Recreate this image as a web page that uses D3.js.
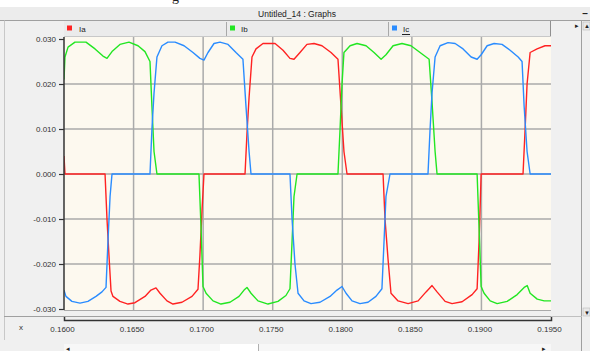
<!DOCTYPE html>
<html><head><meta charset="utf-8">
<script src="https://cdn.jsdelivr.net/npm/d3@7"></script>
<style>html,body{margin:0;padding:0;background:#f0f0f0;overflow:hidden}svg{display:block}</style>
</head><body>
<script>
// ---------- data ----------
const windowTitle = "Untitled_14 : Graphs";
const seriesNames = ["Ia", "Ib", "Ic"];
const xTicks = [0.160, 0.165, 0.170, 0.175, 0.180, 0.185, 0.190, 0.195];
const yTicks = [-0.030, -0.020, -0.010, 0.000, 0.010, 0.020, 0.030];
const iaPoints = [[0.16,0.004],[0.16007,0],[0.16295,0],[0.16309,-0.010],[0.16323,-0.018],[0.16338,-0.026],[0.16352,-0.0272],[0.16402,-0.0283],[0.16460,-0.0289],[0.16510,-0.0286],[0.16582,-0.0272],[0.16625,-0.0258],[0.16661,-0.0253],[0.16690,-0.0265],[0.16740,-0.0282],[0.16783,-0.0289],[0.16848,-0.0285],[0.16920,-0.0272],[0.16963,-0.0256],[0.16977,-0.018],[0.16992,-0.008],[0.17006,0],[0.17301,0],[0.17315,0.009],[0.17330,0.017],[0.17351,0.026],[0.17380,0.0278],[0.17430,0.029],[0.17517,0.029],[0.17574,0.0275],[0.17624,0.0257],[0.17653,0.0255],[0.17696,0.027],[0.17746,0.0288],[0.17797,0.029],[0.17854,0.0285],[0.17919,0.027],[0.17969,0.0255],[0.17991,0.015],[0.18012,0.005],[0.18034,0],[0.18293,0],[0.18307,-0.010],[0.18329,-0.019],[0.18350,-0.0265],[0.18401,-0.0282],[0.18473,-0.0288],[0.18545,-0.0282],[0.18602,-0.0262],[0.18645,-0.0248],[0.18681,-0.0262],[0.18739,-0.0283],[0.18789,-0.0288],[0.18861,-0.0284],[0.18933,-0.0268],[0.18969,-0.0255],[0.18983,-0.015],[0.18998,0],[0.19299,0],[0.19314,0.010],[0.19328,0.020],[0.19350,0.027],[0.19400,0.0278],[0.19457,0.0285],[0.19500,0.0285]];
const ibPoints = [[0.16,0.021],[0.16007,0.026],[0.16029,0.0282],[0.16079,0.0293],[0.16158,0.0293],[0.16223,0.0278],[0.16280,0.0262],[0.16309,0.0257],[0.16345,0.0272],[0.16402,0.0288],[0.16467,0.0293],[0.16532,0.0285],[0.16582,0.0272],[0.16618,0.025],[0.16632,0.015],[0.16647,0.005],[0.16668,0],[0.16970,0],[0.16985,-0.012],[0.16999,-0.025],[0.17021,-0.0265],[0.17071,-0.0282],[0.17128,-0.0289],[0.17193,-0.0285],[0.17258,-0.0272],[0.17294,-0.0258],[0.17315,-0.0252],[0.17344,-0.0265],[0.17394,-0.0282],[0.17466,-0.0289],[0.17538,-0.0283],[0.17595,-0.027],[0.17624,-0.0255],[0.17639,-0.015],[0.17653,-0.005],[0.17675,0],[0.17969,0],[0.17984,0.010],[0.17998,0.020],[0.18012,0.027],[0.18056,0.0285],[0.18106,0.029],[0.18171,0.0285],[0.18228,0.027],[0.18279,0.0255],[0.18314,0.0265],[0.18365,0.0285],[0.18429,0.029],[0.18494,0.0285],[0.18559,0.027],[0.18624,0.0255],[0.18645,0.016],[0.18667,0.005],[0.18681,0],[0.18969,0],[0.18983,-0.012],[0.18998,-0.025],[0.19019,-0.0265],[0.19063,-0.0282],[0.19113,-0.0288],[0.19185,-0.0283],[0.19257,-0.0268],[0.19307,-0.0252],[0.19329,-0.0248],[0.19350,-0.0265],[0.19401,-0.0278],[0.19451,-0.0282],[0.19500,-0.0282]];
const icPoints = [[0.16,-0.0258],[0.16014,-0.0272],[0.16057,-0.0283],[0.16115,-0.0287],[0.16172,-0.0283],[0.16230,-0.0272],[0.16273,-0.0262],[0.16302,-0.0252],[0.16316,-0.015],[0.16331,-0.005],[0.16345,0],[0.16618,0],[0.16632,0.010],[0.16647,0.018],[0.16668,0.026],[0.16704,0.0285],[0.16747,0.0293],[0.16798,0.0293],[0.16863,0.0285],[0.16927,0.027],[0.16977,0.0257],[0.17006,0.0253],[0.17035,0.027],[0.17078,0.029],[0.17121,0.0293],[0.17179,0.0288],[0.17236,0.027],[0.17286,0.0255],[0.17308,0.015],[0.17330,0.005],[0.17344,0],[0.17624,0],[0.17639,-0.010],[0.17660,-0.020],[0.17682,-0.0265],[0.17725,-0.0282],[0.17775,-0.0288],[0.17840,-0.0285],[0.17912,-0.0272],[0.17962,-0.0258],[0.17998,-0.025],[0.18027,-0.0265],[0.18070,-0.0282],[0.18127,-0.0288],[0.18185,-0.0285],[0.18242,-0.0272],[0.18285,-0.0255],[0.18300,-0.015],[0.18314,-0.005],[0.18343,0],[0.18616,0],[0.18631,0.010],[0.18645,0.018],[0.18667,0.026],[0.18703,0.0285],[0.18760,0.0292],[0.18811,0.029],[0.18868,0.0278],[0.18926,0.026],[0.18969,0.0255],[0.18998,0.0265],[0.19041,0.0285],[0.19091,0.029],[0.19148,0.0288],[0.19206,0.0275],[0.19264,0.026],[0.19292,0.025],[0.19307,0.015],[0.19328,0.005],[0.19350,0],[0.19500,0]];
const seriesColors = ["#ff2222", "#22e622", "#2a8cff"];

// ---------- layout ----------
const W = 590, H = 351;
const P = {left: 64, right: 551, top: 37, bottom: 310};
const FONT = "Arial, 'Liberation Sans', sans-serif";
const svg = d3.select("body").append("svg").attr("width", W).attr("height", H);

const x = d3.scaleLinear().domain([0.16, 0.195]).range([P.left, P.right]);
const y = d3.scaleLinear().domain([-0.03, 0.03]).range([309, 39]);

// window chrome
svg.append("rect").attr("x",0).attr("y",0).attr("width",W).attr("height",H).attr("fill","#f0f0f0");
svg.append("rect").attr("x",0).attr("y",0).attr("width",W).attr("height",7).attr("fill","#ffffff");
svg.append("text").attr("x",172).attr("y",1).attr("font-family","'Times New Roman', 'Liberation Serif', serif").attr("font-size",14).attr("fill","#222").text("g");
svg.append("rect").attr("x",0).attr("y",7).attr("width",W).attr("height",13.5).attr("fill","#ececec");
svg.append("line").attr("x1",0).attr("x2",W).attr("y1",20.5).attr("y2",20.5).attr("stroke","#a0a0a0");
svg.append("text").attr("x",297).attr("y",17).attr("text-anchor","middle").attr("font-family",FONT).attr("font-size",8.5).attr("fill","#222").text(windowTitle);
svg.append("text").attr("x",585).attr("y",17).attr("text-anchor","middle").attr("font-family",FONT).attr("font-size",10).attr("font-weight","bold").attr("fill","#222").text("–");
svg.append("line").attr("x1",4.5).attr("x2",4.5).attr("y1",20.5).attr("y2",340).attr("stroke","#c8c8c8");
svg.append("line").attr("x1",581.5).attr("x2",581.5).attr("y1",20.5).attr("y2",H).attr("stroke","#a0a0a0");
svg.append("text").attr("x",577).attr("y",28).attr("text-anchor","middle").attr("font-family",FONT).attr("font-size",7).attr("fill","#222").text("▸");
svg.append("rect").attr("x",583).attr("y",22).attr("width",7).attr("height",8).attr("fill","#e8e8e8").attr("stroke","#b0b0b0").attr("stroke-width",0.5);
svg.append("text").attr("x",587).attr("y",28).attr("text-anchor","middle").attr("font-family",FONT).attr("font-size",6).attr("fill","#222").text("▲");
svg.append("rect").attr("x",583).attr("y",308).attr("width",7).attr("height",8).attr("fill","#e8e8e8").attr("stroke","#b0b0b0").attr("stroke-width",0.5);
svg.append("text").attr("x",587).attr("y",314.5).attr("text-anchor","middle").attr("font-family",FONT).attr("font-size",6).attr("fill","#222").text("▼");
svg.append("line").attr("x1",551).attr("x2",582).attr("y1",316.5).attr("y2",316.5).attr("stroke","#c0c0c0");

// legend bar
const legW = (P.right - 1 - P.left) / 3;
svg.append("rect").attr("x",P.left).attr("y",21).attr("width",P.right-1-P.left).attr("height",15.5).attr("fill","#ebebeb");
svg.append("line").attr("x1",P.right-0.5).attr("x2",P.right-0.5).attr("y1",21).attr("y2",37).attr("stroke","#909090");
svg.append("line").attr("x1",P.left).attr("x2",P.right).attr("y1",36.5).attr("y2",36.5).attr("stroke","#c8c8c8");
seriesNames.forEach((n,i) => {
  const lx = P.left + i*legW;
  if (i > 0) svg.append("line").attr("x1",lx+0.5).attr("x2",lx+0.5).attr("y1",22).attr("y2",36).attr("stroke","#a8a8a8");
  svg.append("rect").attr("x",lx+3+(i>0?1:0)).attr("y",25.5).attr("width",5).attr("height",5).attr("fill",seriesColors[i]);
  const t = svg.append("text").attr("x",lx+15).attr("y",32).attr("font-family",FONT).attr("font-size",8).attr("fill","#222").text(n);
  if (i === 2) svg.append("line").attr("x1",lx+14).attr("x2",lx+22).attr("y1",34.5).attr("y2",34.5).attr("stroke","#222");
});

// plot area
svg.append("rect").attr("x",P.left).attr("y",P.top).attr("width",P.right-P.left).attr("height",P.bottom-P.top).attr("fill","#fdf9ef");
const grid = svg.append("g").attr("stroke","#aaaaaa").attr("stroke-width",1.5);
grid.selectAll("line.v").data(xTicks.slice(1,-1)).join("line").attr("class","v")
  .attr("x1",d=>x(d)).attr("x2",d=>x(d)).attr("y1",P.top).attr("y2",P.bottom);
grid.selectAll("line.h").data(yTicks.slice(1,-1)).join("line").attr("class","h")
  .attr("x1",P.left).attr("x2",P.right).attr("y1",d=>y(d)).attr("y2",d=>y(d));
svg.append("line").attr("x1",P.left).attr("x2",P.right).attr("y1",P.bottom+0.5).attr("y2",P.bottom+0.5).attr("stroke","#aaaaaa").attr("stroke-width",1);

// series
const line = d3.line().x(d=>x(d[0])).y(d=>y(d[1]));
const clip = svg.append("clipPath").attr("id","pc").append("rect").attr("x",P.left).attr("y",P.top).attr("width",P.right-P.left).attr("height",P.bottom-P.top);
const plotG = svg.append("g").attr("clip-path","url(#pc)");
[iaPoints, ibPoints, icPoints].forEach((pts,i) => {
  plotG.append("path").datum(pts).attr("d",line).attr("fill","none").attr("stroke",seriesColors[i]).attr("stroke-width",1.4).attr("stroke-linejoin","round");
});

// y axis
svg.append("line").attr("x1",P.left).attr("x2",P.left).attr("y1",P.top).attr("y2",P.bottom).attr("stroke","#333").attr("stroke-width",1.5);
const yAx = svg.append("g").attr("transform",`translate(${P.left},0)`)
  .call(d3.axisLeft(y).tickValues(yTicks).tickFormat(d=>d.toFixed(3)).tickSize(5).tickPadding(3));
yAx.select(".domain").remove();
yAx.selectAll(".tick line").attr("stroke","#333").attr("stroke-width",1.2);
yAx.selectAll("text").attr("font-family",FONT).attr("font-size",8).attr("fill","#333");

// band line and x axis
svg.append("line").attr("x1",4).attr("x2",P.right).attr("y1",316.5).attr("y2",316.5).attr("stroke","#a0a0a0").attr("stroke-width",1);
const xAx = svg.append("g").attr("transform","translate(0,320)")
  .call(d3.axisBottom(x).tickValues(xTicks).tickFormat(d=>d.toFixed(4)).tickSizeInner(0).tickSizeOuter(-3).tickPadding(6));
xAx.select(".domain").attr("stroke","#333").attr("stroke-width",1.5);
xAx.selectAll("text").attr("font-family",FONT).attr("font-size",8).attr("fill","#333").attr("dx",-2);
svg.append("text").attr("x",21).attr("y",330).attr("text-anchor","middle").attr("font-family",FONT).attr("font-size",8).attr("fill","#333").text("x");

// bottom scrollbar
svg.append("rect").attr("x",64).attr("y",344).attr("width",P.right-64).attr("height",7).attr("fill","#f7f7f7");
svg.append("rect").attr("x",220).attr("y",344).attr("width",38).attr("height",7).attr("fill","#ffffff");
svg.append("line").attr("x1",258.5).attr("x2",258.5).attr("y1",344).attr("y2",351).attr("stroke","#b0b0b0");
svg.append("text").attr("x",68).attr("y",351).attr("text-anchor","middle").attr("font-family",FONT).attr("font-size",7).attr("fill","#222").text("◂");
svg.append("text").attr("x",544).attr("y",351).attr("text-anchor","middle").attr("font-family",FONT).attr("font-size",7).attr("fill","#222").text("▸");
</script>
</body></html>
